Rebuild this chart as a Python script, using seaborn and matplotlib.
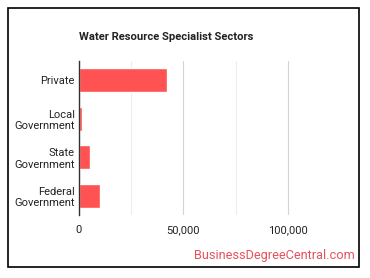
import matplotlib
matplotlib.use('Agg')
import matplotlib.pyplot as plt
import pandas as pd
import seaborn as sns
from matplotlib.patches import Rectangle
from matplotlib.ticker import FuncFormatter, MultipleLocator

sectors = ['Private', 'Local\nGovernment', 'State\nGovernment', 'Federal\nGovernment']
employment = [42200, 1600, 5400, 10200]
xticks = [0, 50000, 100000]

df = pd.DataFrame({'sector': sectors, 'employment': employment})

sns.set_style('white')
plt.rcParams['font.family'] = ['Roboto', 'DejaVu Sans']

fig = plt.figure(figsize=(3.7, 2.78), dpi=100)
ax = fig.add_axes([79 / 370, 63 / 278, 261 / 370, 154 / 278])

ax.xaxis.set_minor_locator(MultipleLocator(25000))
ax.grid(axis='x', which='major', color='#d4d4d4', linewidth=0.8)
ax.grid(axis='x', which='minor', color='#ededed', linewidth=0.8)
ax.set_axisbelow(True)

sns.barplot(data=df, x='employment', y='sector', orient='h', color='#ff5252',
            saturation=1, width=0.62, ax=ax)

ax.set_xlim(0, 125000)
ax.set_ylim(3.5, -0.5)
ax.set_xticks(xticks)
ax.xaxis.set_major_formatter(FuncFormatter(lambda v, p: f'{int(v):,}'))
ax.set_xlabel('')
ax.set_ylabel('')
for s in ['top', 'right', 'bottom']:
    ax.spines[s].set_visible(False)
ax.spines['left'].set_color('#333333')
ax.spines['left'].set_linewidth(1)
ax.tick_params(axis='both', length=0, labelsize=8, labelcolor='#222222')
ax.tick_params(axis='y', pad=3)
ax.tick_params(axis='x', pad=7)
for lab in ax.get_yticklabels():
    lab.set_multialignment('right')

fig.text(79 / 370, 1 - 37 / 278, 'Water Resource Specialist Sectors', fontsize=8.1,
         fontweight='bold', color='#222222', ha='left', va='center')
fig.text(355 / 370, 1 - 255 / 278, 'BusinessDegreeCentral.com', fontsize=9.2,
         color='#e8505b', ha='right', va='center')

fig.patches.append(Rectangle((8 / 370, 11 / 278), 351 / 370, 259 / 278,
                             transform=fig.transFigure, fill=False,
                             edgecolor='black', linewidth=1.2))

plt.savefig('out.png', dpi=100)
